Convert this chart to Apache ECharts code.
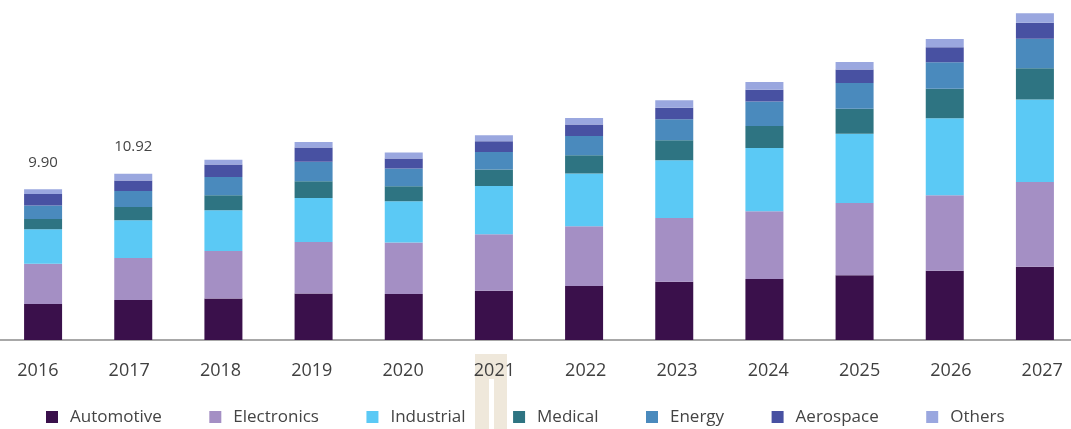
<!DOCTYPE html>
<html>
<head>
<meta charset="utf-8">
<style>
  html, body { margin: 0; padding: 0; background: #ffffff; }
  #chart { width: 1071px; height: 429px; }
</style>
<script src="https://cdn.jsdelivr.net/npm/echarts@6/dist/echarts.min.js"></script>
</head>
<body>
<div id="chart"></div>
<script>
// Market size by application, USD billion
const categories = ['2016', '2017', '2018', '2019', '2020', '2021', '2022', '2023', '2024', '2025', '2026', '2027'];
const automotive = [2.37, 2.62, 2.73, 3.06, 3.02, 3.23, 3.54, 3.82, 4.00, 4.26, 4.54, 4.81];
const electronics = [2.63, 2.77, 3.12, 3.38, 3.39, 3.72, 3.93, 4.20, 4.46, 4.74, 4.96, 5.57];
const industrial = [2.28, 2.47, 2.67, 2.89, 2.71, 3.17, 3.46, 3.78, 4.15, 4.55, 5.07, 5.42];
const medical = [0.66, 0.87, 0.98, 1.10, 0.98, 1.08, 1.20, 1.31, 1.44, 1.64, 1.93, 2.05];
const energy = [0.89, 1.05, 1.20, 1.27, 1.16, 1.15, 1.27, 1.38, 1.62, 1.68, 1.74, 1.93];
const aerospace = [0.75, 0.70, 0.83, 0.94, 0.66, 0.70, 0.75, 0.77, 0.77, 0.90, 0.98, 1.05];
const others = [0.32, 0.44, 0.31, 0.37, 0.39, 0.39, 0.43, 0.48, 0.50, 0.48, 0.55, 0.63];
// Years whose stacked total is printed above the bar
const totalLabelYears = ['2016', '2017'];

const seriesDefs = [
  { name: 'Automotive', data: automotive, color: '#3a104b' },
  { name: 'Electronics', data: electronics, color: '#a48fc4' },
  { name: 'Industrial', data: industrial, color: '#5bc9f5' },
  { name: 'Medical', data: medical, color: '#2e7482' },
  { name: 'Energy', data: energy, color: '#4a8abd' },
  { name: 'Aerospace', data: aerospace, color: '#4851a2' },
  { name: 'Others', data: others, color: '#9aa7df' }
];

const totals = categories.map((_, i) => seriesDefs.reduce((s, d) => s + d.data[i], 0));

const font = "'Open Sans', 'DejaVu Sans', sans-serif";

const series = seriesDefs.map((d, k) => {
  const s = {
    name: d.name,
    type: 'bar',
    stack: 'total',
    barWidth: 38,
    data: d.data,
    itemStyle: { color: d.color },
    emphasis: { disabled: true },
    xAxisIndex: 0,
    yAxisIndex: 0
  };
  if (k === seriesDefs.length - 1) {
    s.label = {
      show: true,
      position: 'top',
      distance: 19,
      fontFamily: font,
      fontSize: 15,
      color: '#444444',
      formatter: p => totalLabelYears.includes(p.name) ? totals[p.dataIndex].toFixed(2) : ''
    };
  }
  return s;
});

const chart = echarts.init(document.getElementById('chart'), null, { renderer: 'canvas' });
chart.setOption({
  animation: false,
  backgroundColor: '#ffffff',
  grid: [
    { left: -2, width: 1082, top: 5, bottom: 89, outerBoundsMode: 'none', containLabel: false },
    { left: -7.75, width: 1095.6, top: 5, bottom: 89, outerBoundsMode: 'none', containLabel: false }
  ],
  legend: {
    data: seriesDefs.map(d => d.name),
    left: 46,
    top: 407,
    padding: 0,
    icon: 'rect',
    itemWidth: 12,
    itemHeight: 12,
    itemGap: 47.5,
    selectedMode: false,
    textStyle: {
      fontFamily: font,
      fontSize: 17,
      color: '#444444',
      lineHeight: 20,
      padding: [0, 0, 0, 7]
    }
  },
  graphic: [
    // soft band behind the 2021 label
    { type: 'rect', z: -10, shape: { x: 475, y: 354, width: 32, height: 25 }, style: { fill: '#efe8db' } },
    { type: 'rect', z: -10, shape: { x: 475, y: 379, width: 14, height: 50 }, style: { fill: '#efe8db' } },
    { type: 'rect', z: -10, shape: { x: 494, y: 379, width: 13, height: 50 }, style: { fill: '#efe8db' } }
  ],
  xAxis: [
    {
      type: 'category',
      gridIndex: 0,
      data: categories,
      axisLine: { show: true, lineStyle: { color: '#a8a8a8', width: 2 } },
      axisTick: { show: false },
      axisLabel: { show: false }
    },
    {
      type: 'category',
      gridIndex: 1,
      data: categories,
      axisLine: { show: false },
      axisTick: { show: false },
      axisLabel: {
        show: true,
        margin: 22,
        fontFamily: font,
        fontSize: 18,
        color: '#404040'
      }
    }
  ],
  yAxis: [
    { type: 'value', gridIndex: 0, min: 0, max: 22, show: false, splitLine: { show: false } },
    { type: 'value', gridIndex: 1, min: 0, max: 22, show: false, splitLine: { show: false } }
  ],
  series: series
});
</script>
</body>
</html>
